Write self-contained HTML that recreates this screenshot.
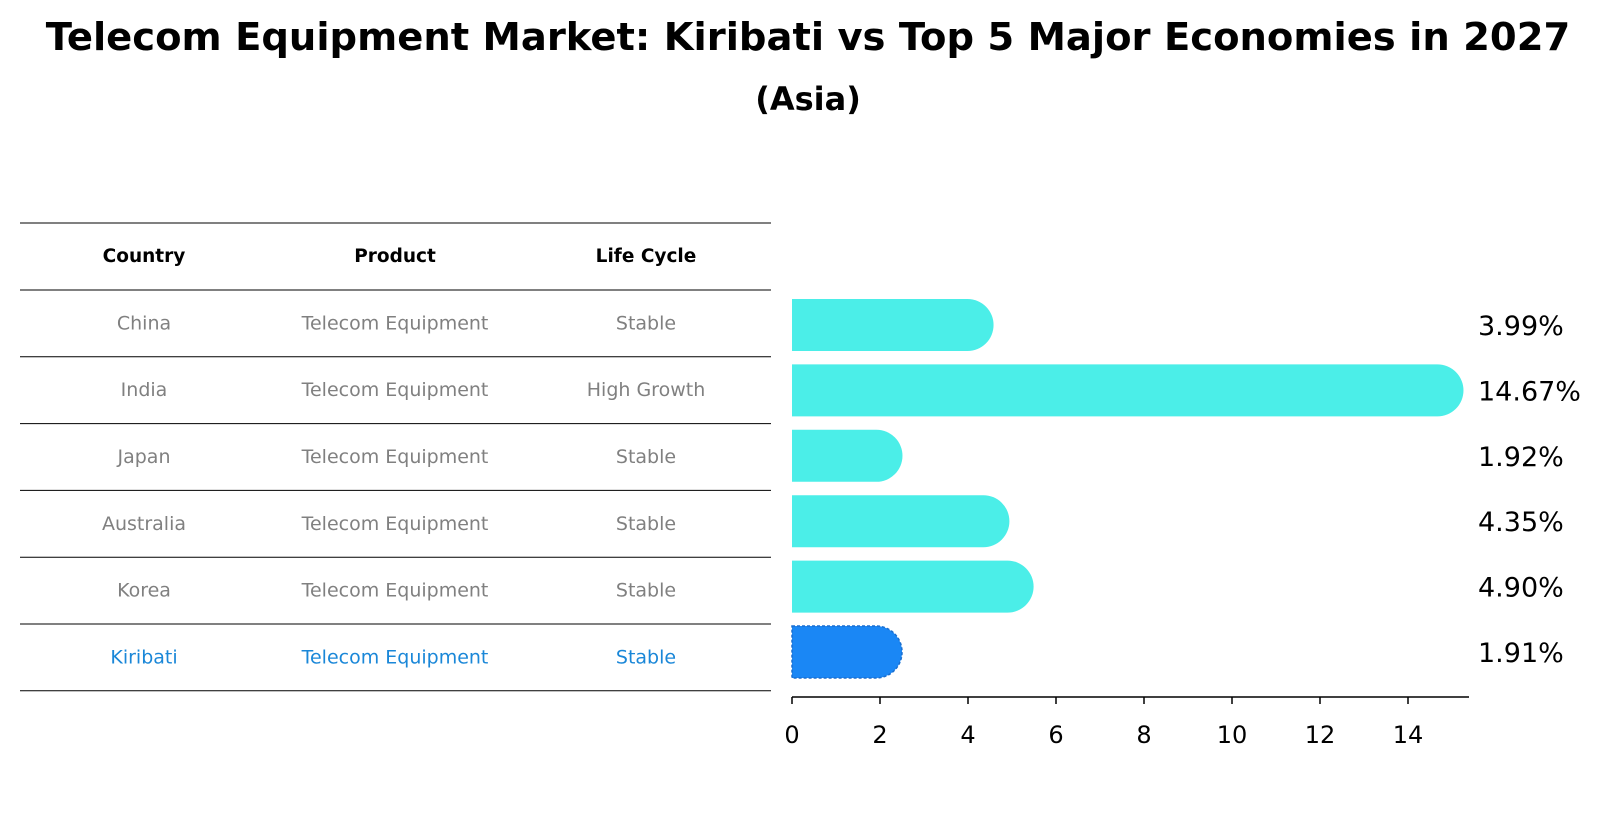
<!DOCTYPE html>
<html><head><meta charset="utf-8"><style>
body{margin:0;background:#fff;font-family:"Liberation Sans","DejaVu Sans",sans-serif}
</style></head><body>
<svg width="1604" height="823" viewBox="0 0 1604 823" xmlns="http://www.w3.org/2000/svg" id="chart">
<text x="808" y="50" text-anchor="middle" font-size="38.5" font-weight="bold" font-family="DejaVu Sans, sans-serif">Telecom Equipment Market: Kiribati vs Top 5 Major Economies in 2027</text>
<text x="808" y="110" text-anchor="middle" font-size="32" font-weight="bold" font-family="DejaVu Sans, sans-serif">(Asia)</text>
<g id="table"></g>
<g id="bars"></g>
</svg>
<script>
const countries=["China","India","Japan","Australia","Korea","Kiribati"];
const products=["Telecom Equipment","Telecom Equipment","Telecom Equipment","Telecom Equipment","Telecom Equipment","Telecom Equipment"];
const lifecycles=["Stable","High Growth","Stable","Stable","Stable","Stable"];
const values=[3.99,14.67,1.92,4.35,4.90,1.91];
const ticks=[0,2,4,6,8,10,12,14];
const NS="http://www.w3.org/2000/svg";
function mk(t,a,p){const e=document.createElementNS(NS,t);for(const k in a)e.setAttribute(k,a[k]);p.appendChild(e);return e;}
const x0=792,ppu=44,rowY0=325,rowStep=65.4,bh=52;
const xs=v=>x0+v*ppu, ys=i=>rowY0+i*rowStep;
const tbl=document.getElementById('table'),bars=document.getElementById('bars');
const lineYs=[223,290];for(let i=1;i<=6;i++)lineYs.push(290+i*66.8);
lineYs.forEach((y,i)=>{const l=mk('line',{x1:20,x2:771,y1:y,y2:y,stroke:'#000','stroke-width':1},tbl);

});
const cx=[144,395,646];
["Country","Product","Life Cycle"].forEach((h,j)=>{const t=mk('text',{x:cx[j],y:262,'text-anchor':'middle','font-size':18.5,'font-weight':'bold','font-family':'DejaVu Sans, sans-serif'},tbl);t.textContent=h;

});
countries.forEach((c,i)=>{const y=(lineYs[i+1]+lineYs[i+2])/2+6;const col=i==5?'#1a87d8':'#808080';
[c,products[i],lifecycles[i]].forEach((s,j)=>{const t=mk('text',{x:cx[j],y:y,'text-anchor':'middle','font-size':19,fill:col,'font-family':'DejaVu Sans, sans-serif'},tbl);t.textContent=s;

});});
values.forEach((v,i)=>{const k=i==5;const y=ys(i),r=bh/2,w=xs(v)-x0;
const p=mk('path',{d:`M${x0},${y-r}H${x0+w}A${r},${r} 0 0 1 ${x0+w},${y+r}H${x0}Z`,fill:k?'#1a87f5':'#4beee8',stroke:k?'#1a6fd0':'none','stroke-width':k?1.5:0,'stroke-dasharray':k?'3,2':''},bars);


const t=mk('text',{x:1478,y:y+10,'font-size':27,'font-family':'DejaVu Sans, sans-serif'},bars);t.textContent=v.toFixed(2)+'%';

});
const ax=mk('line',{x1:x0,x2:1469,y1:697,y2:697,stroke:'#000','stroke-width':1.5},bars);


ticks.forEach(v=>{const tk=mk('line',{x1:xs(v),x2:xs(v),y1:697,y2:704,stroke:'#000','stroke-width':1.5},bars);


const t=mk('text',{x:xs(v),y:743,'text-anchor':'middle','font-size':24,'font-family':'DejaVu Sans, sans-serif'},bars);t.textContent=v;

});
</script>
</body></html>
